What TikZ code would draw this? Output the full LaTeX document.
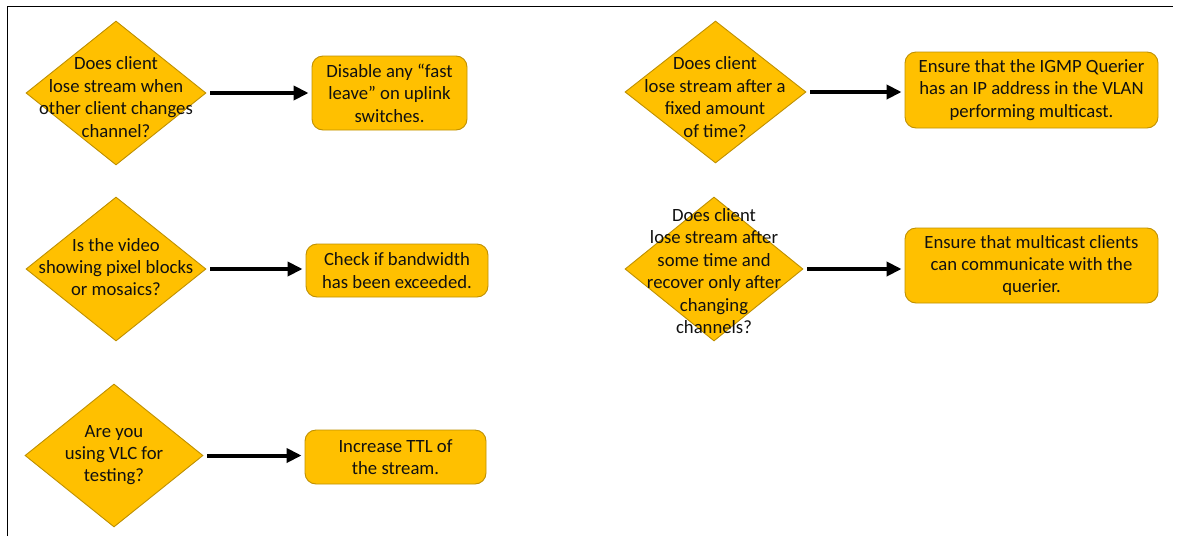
\documentclass[tikz,border=0pt]{standalone}
\usepackage{fontspec}
\setmainfont{Carlito}
\usetikzlibrary{shapes.geometric,arrows.meta}
\definecolor{gold}{HTML}{FFC000}
\definecolor{golddark}{HTML}{BF9000}
\definecolor{ink}{HTML}{111111}
\begin{document}
\begin{tikzpicture}[x=1pt,y=-1pt,
  question/.style={diamond,draw=golddark,fill=gold,line width=0.9pt,
    minimum width=180pt,minimum height=144pt,inner sep=0pt},
  qtext/.style={align=center,text=ink,font=\fontsize{18.7}{22.4}\selectfont,inner sep=0pt},
  answer/.style={draw=golddark,fill=gold,line width=0.9pt,rounded corners=11pt,
    align=center,text=ink,font=\fontsize{18.7}{22.4}\selectfont,inner sep=0pt},
  flow/.style={line width=4pt,-{Triangle[length=15pt,width=14pt]},
    shorten <=4pt,shorten >=3pt}]
\useasboundingbox (0,0) rectangle (1182,536);
% frame (left and top edges)
\draw[line width=1pt] (7,536) -- (7,6) -- (1173,6);

% left column
\node[question] (q1) at (116,93) {};
\node[qtext] at (116,97) {Does client\\lose stream when\\other client changes\\channel?};
\node[answer,minimum width=155pt,minimum height=74pt] (a1) at (389.5,93)
  {Disable any “fast\\leave” on uplink\\switches.};

\node[question] (q2) at (116,269) {};
\node[qtext] at (116,267) {Is the video\\showing pixel blocks\\or mosaics?};
\node[answer,minimum width=182pt,minimum height=53pt] (a2) at (397,270.5)
  {Check if bandwidth\\has been exceeded.};

\node[question,minimum width=178pt,minimum height=143pt] (q3) at (114,455.5) {};
\node[qtext] at (114,455) {Are you\\using VLC for\\testing?};
\node[answer,minimum width=181pt,minimum height=54pt] (a3) at (395.5,457)
  {Increase TTL of\\the stream.};

% right column
\node[question,minimum width=181pt,minimum height=142pt] (q4) at (715.5,92) {};
\node[qtext] at (715,97) {Does client\\lose stream after a\\fixed amount\\of time?};
\node[answer,minimum width=253pt,minimum height=76pt] (a4) at (1031.5,90)
  {Ensure that the IGMP Querier\\has an IP address in the VLAN\\performing multicast.};

\node[question,minimum width=178pt,minimum height=144pt] (q5) at (714,269) {};
\node[qtext] at (714,271) {Does client\\lose stream after\\some time and\\recover only after\\changing\\channels?};
\node[answer,minimum width=253pt,minimum height=75pt] (a5) at (1031.5,265.5)
  {Ensure that multicast clients\\can communicate with the\\querier.};

% connectors
\draw[flow] (q1.east) -- (a1.west |- q1.east);
\draw[flow] (q2.east) -- (a2.west |- q2.east);
\draw[flow] (q3.east) -- (a3.west |- q3.east);
\draw[flow] (q4.east) -- (a4.west |- q4.east);
\draw[flow] (q5.east) -- (a5.west |- q5.east);
\end{tikzpicture}
\end{document}
